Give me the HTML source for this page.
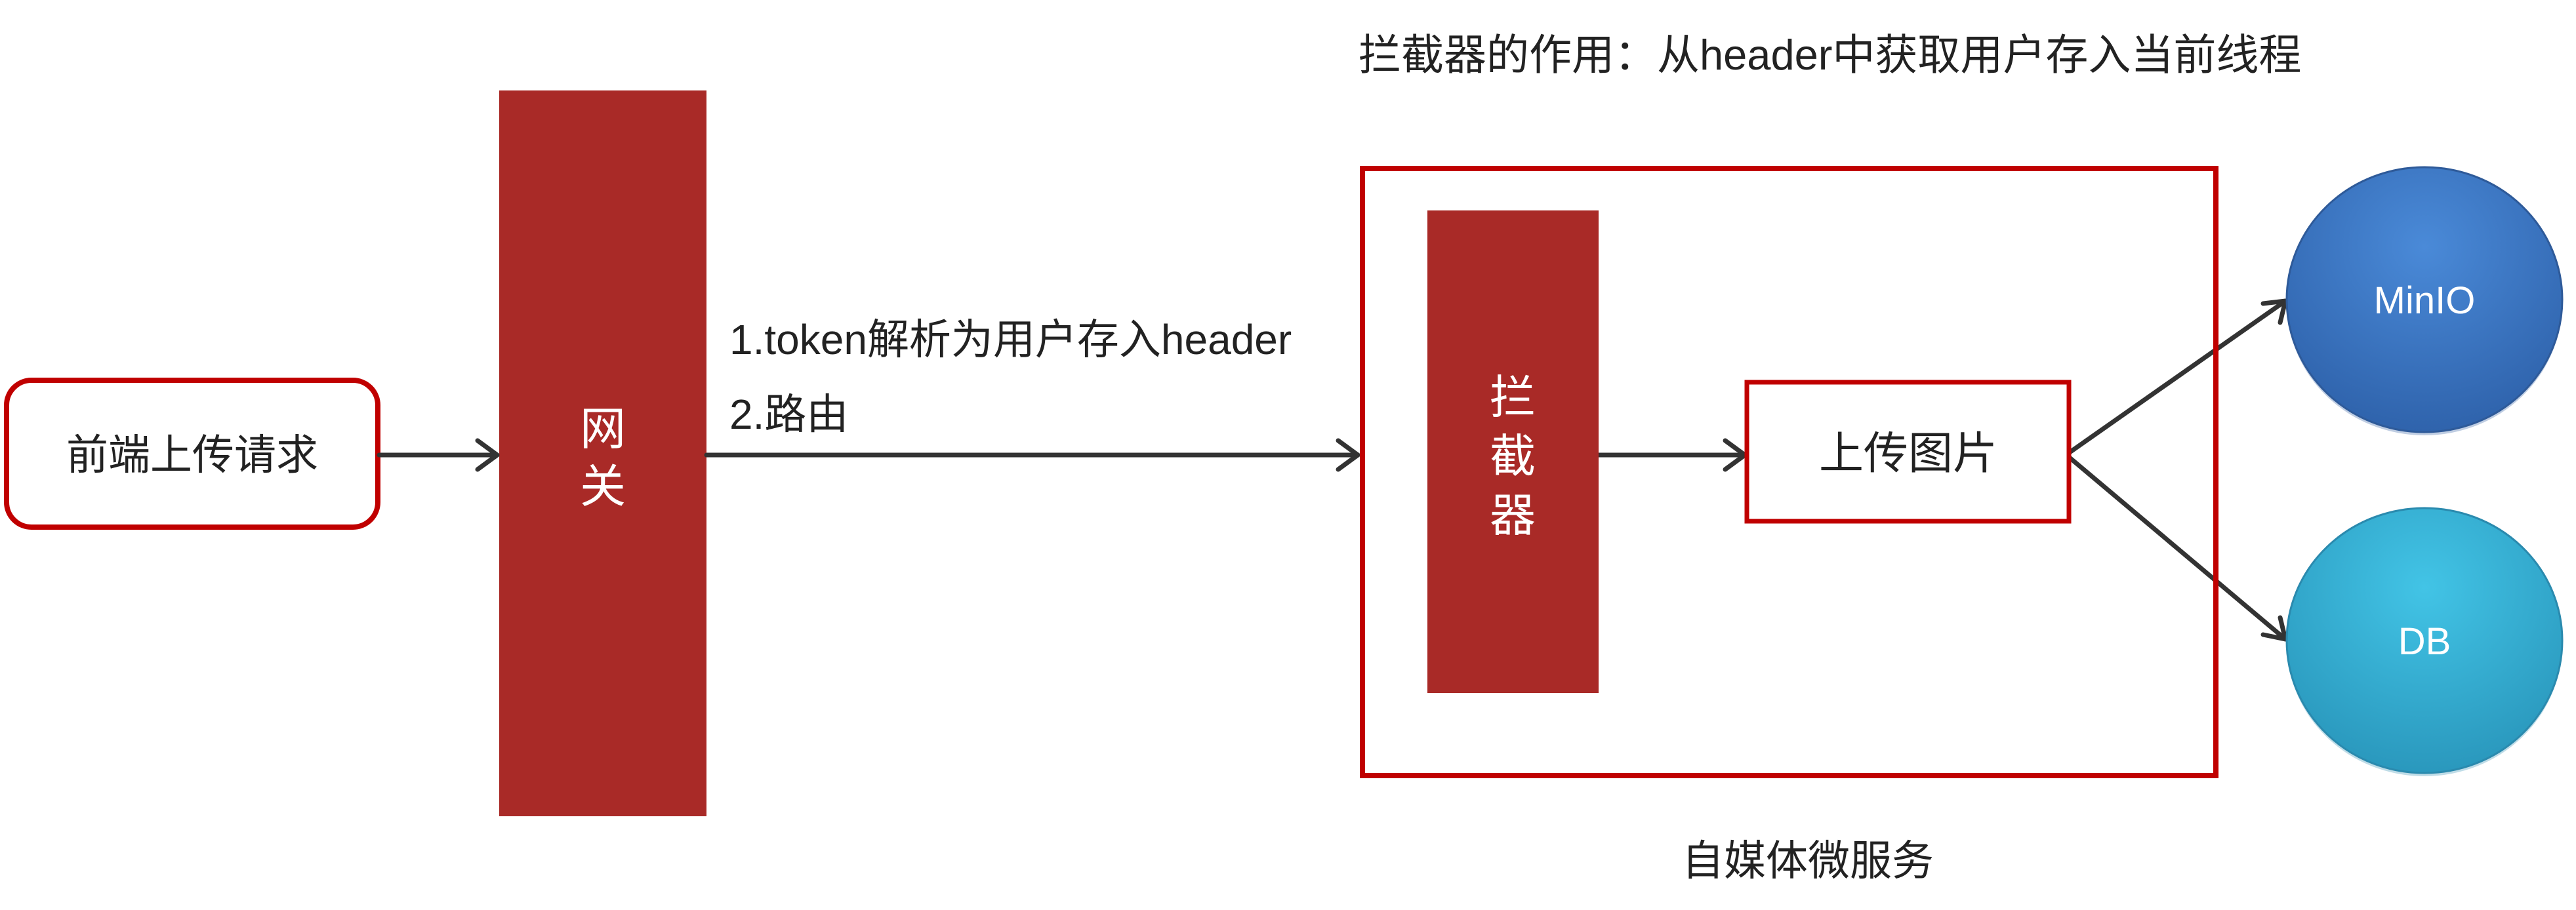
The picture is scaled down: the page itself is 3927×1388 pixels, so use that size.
<!DOCTYPE html>
<html><head><meta charset="utf-8"><style>
html,body{margin:0;padding:0;background:#fff;}
svg{display:block;}
text{font-family:"Liberation Sans","Noto Sans CJK SC",sans-serif;}
</style></head><body>
<svg width="3927" height="1388" viewBox="0 0 3927 1388" xmlns="http://www.w3.org/2000/svg">
<defs>
<radialGradient id="g1" cx="0.5" cy="0.3" r="0.7">
<stop offset="0" stop-color="#4a8ad8"/><stop offset="1" stop-color="#2f63ac"/></radialGradient>
<radialGradient id="g2" cx="0.5" cy="0.3" r="0.7">
<stop offset="0" stop-color="#42c4e6"/><stop offset="1" stop-color="#2a98bd"/></radialGradient>
</defs>
<rect x="10" y="580" width="566" height="224" rx="38" fill="#fff" stroke="#c00000" stroke-width="8"/>
<text x="293" y="716" font-size="64" text-anchor="middle" fill="#222">前端上传请求</text>
<rect x="761" y="138" width="316" height="1107" fill="#a92a27"/>
<text x="919" y="678" font-size="70" text-anchor="middle" fill="#fff">网</text>
<text x="919" y="766" font-size="70" text-anchor="middle" fill="#fff">关</text>
<g stroke="#333" stroke-width="7" fill="none" stroke-linecap="round" stroke-linejoin="round">
<line x1="578" y1="694" x2="758" y2="694"/>
<polyline points="728,672 758,694 728,716"/>
<line x1="1077" y1="694" x2="2070" y2="694"/>
<polyline points="2040,672 2070,694 2040,716"/>
<line x1="2437" y1="694" x2="2660" y2="694"/>
<polyline points="2630,672 2660,694 2630,716"/>
<line x1="3155" y1="690" x2="3484" y2="459"/>
<polyline points="3450,463 3484,459 3476,492"/>
<line x1="3155" y1="698" x2="3484" y2="975"/>
<polyline points="3476,942 3484,975 3450,968"/>
</g>
<text x="1112" y="540" font-size="64" fill="#222">1.token解析为用户存入header</text>
<text x="1112" y="654" font-size="64" fill="#222">2.路由</text>
<text x="2071" y="106" font-size="65" fill="#222">拦截器的作用：从header中获取用户存入当前线程</text>
<rect x="2077" y="257" width="1301" height="926" fill="none" stroke="#c00000" stroke-width="8"/>
<rect x="2176" y="321" width="261" height="736" fill="#a92a27"/>
<text x="2306" y="630" font-size="70" text-anchor="middle" fill="#fff">拦</text>
<text x="2306" y="720" font-size="70" text-anchor="middle" fill="#fff">截</text>
<text x="2306" y="810" font-size="70" text-anchor="middle" fill="#fff">器</text>
<rect x="2663" y="583" width="491" height="212" fill="#fff" stroke="#c00000" stroke-width="7"/>
<text x="2909" y="715" font-size="68" text-anchor="middle" fill="#222">上传图片</text>
<text x="2756" y="1335" font-size="64" text-anchor="middle" fill="#222">自媒体微服务</text>
<ellipse cx="3696" cy="462" rx="210" ry="202" fill="#2a5a9e" opacity="0.3"/>
<ellipse cx="3696" cy="457" rx="210" ry="202" fill="url(#g1)" stroke="#2e5a99" stroke-width="3"/>
<text x="3696" y="478" font-size="58" text-anchor="middle" fill="#fff">MinIO</text>
<ellipse cx="3696" cy="982" rx="210" ry="202" fill="#2a8aae" opacity="0.3"/>
<ellipse cx="3696" cy="977" rx="210" ry="202" fill="url(#g2)" stroke="#2a8aae" stroke-width="3"/>
<text x="3696" y="998" font-size="58" text-anchor="middle" fill="#fff">DB</text>
</svg>
</body></html>
